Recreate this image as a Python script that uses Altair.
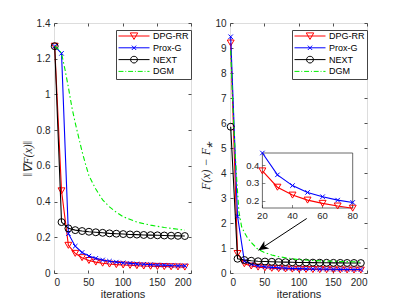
import math
import altair as alt
import pandas as pd

# ---------------- data ----------------
SERIES = ["DPG-RR", "Prox-G", "NEXT", "DGM"]
COLORS = ["#ff0000", "#0000ff", "#000000", "#00ee00"]

it_marks = [1, 11, 21, 31, 41, 51, 61, 71, 81, 91, 101, 111, 121, 131, 141, 151, 161, 171, 181, 191]

# left panel: ||grad F(x)||
dpg_left = [1.27, 0.46, 0.155, 0.11, 0.086, 0.07, 0.061, 0.055, 0.05, 0.047,
            0.045, 0.043, 0.041, 0.039, 0.038, 0.037, 0.036, 0.035, 0.034, 0.033]
prox_left = [1.27, 1.23, 0.22, 0.15, 0.115, 0.095, 0.082, 0.073, 0.066, 0.061,
             0.057, 0.054, 0.051, 0.049, 0.047, 0.045, 0.044, 0.042, 0.041, 0.04]
next_left = [1.27, 0.285, 0.25, 0.24, 0.235, 0.231, 0.228, 0.225, 0.222, 0.22,
             0.218, 0.216, 0.215, 0.213, 0.212, 0.211, 0.21, 0.209, 0.208, 0.207]
dgm_left_it = [1, 6, 11, 16, 21, 26, 31, 36, 41, 46, 51, 61, 71, 81, 91, 101, 121, 141, 161, 181, 191]
dgm_left = [1.27, 1.255, 1.23, 1.14, 1.04, 0.93, 0.84, 0.76, 0.68, 0.61, 0.545, 0.47, 0.41,
            0.37, 0.34, 0.315, 0.285, 0.268, 0.255, 0.245, 0.24]

# right panel: F(x) - F*
dpg_right = [9.2, 0.78, 0.37, 0.279, 0.235, 0.207, 0.189, 0.174, 0.162, 0.155,
             0.148, 0.142, 0.137, 0.133, 0.13, 0.127, 0.124, 0.122, 0.12, 0.118]
prox_right = [9.45, 2.27, 0.47, 0.348, 0.288, 0.25, 0.226, 0.207, 0.194, 0.183,
              0.175, 0.168, 0.162, 0.157, 0.153, 0.149, 0.146, 0.143, 0.14, 0.138]
next_right = [5.85, 0.57, 0.52, 0.49, 0.47, 0.458, 0.448, 0.44, 0.434, 0.428,
              0.423, 0.419, 0.415, 0.412, 0.409, 0.406, 0.404, 0.402, 0.4, 0.398]
dgm_right_it = [1, 4, 7, 10, 13, 17, 21, 25, 31, 36, 41, 51, 61, 71, 81, 91, 101, 121, 141, 161, 181, 191]
dgm_right = [8.9, 6.8, 5.1, 3.65, 2.45, 1.85, 1.62, 1.43, 1.22, 1.08, 0.94, 0.81, 0.72,
             0.655, 0.61, 0.57, 0.535, 0.5, 0.475, 0.46, 0.448, 0.443]

# inset (zoom of right panel)
inset_it = [20, 30, 40, 50, 60, 70, 80]
inset_dpg = [0.37, 0.279, 0.235, 0.207, 0.189, 0.174, 0.162]
inset_prox = [0.47, 0.348, 0.288, 0.25, 0.226, 0.207, 0.194]
inset_frame_x = [20, 80]
inset_frame_y = [0.163, 0.47]

# arrow annotation (tail -> head), right panel data coords
arrow_it = [112, 41.5]
arrow_val = [2.18, 0.91]

# ticks
x_ticks = [0, 50, 100, 150, 200]
left_y_ticks = [0, 0.2, 0.4, 0.6, 0.8, 1.0, 1.2, 1.4]
right_y_ticks = [0, 1, 2, 3, 4, 5, 6, 7, 8, 9, 10]
inset_x_ticks = [20, 40, 60, 80]
inset_x_labels = ["20", "40", "60", "80"]
inset_y_ticks = [0.2, 0.3, 0.4]
inset_y_labels = ["0.2", "0.3", "0.4"]

# ---------------- style ----------------
FONT = "Liberation Sans"
TFONT = "Liberation Serif"
AXC = "#262626"
W, H = 137, 250
INSET_XR = [32.4, 122.7]
INSET_YR = [185, 130]

LEGEND_PATHS = [
    "M-1,0H1M-0.24,-0.2H0.24L0,0.22Z",
    "M-1,0H1M-0.14,-0.14L0.14,0.14M-0.14,0.14L0.14,-0.14",
    "M-1,0H1M-0.22,0A0.22,0.22,0,1,1,0.22,0A0.22,0.22,0,1,1,-0.22,0",
    "M-1,0H-0.68M-0.56,0H-0.5M-0.38,0H-0.06M0.06,0H0.12M0.24,0H0.56M0.68,0H0.74M0.86,0H1",
]
MARKERS = {
    "DPG-RR": dict(shape="triangle-down", size=48),
    "Prox-G": dict(shape="M-1,-1L1,1M-1,1L1,-1", size=20),
    "NEXT": dict(shape="circle", size=48),
}
ARROW_HEAD = "M0,0L0.45,1L0,0.72L-0.45,1Z"


def axis(**kw):
    base = dict(domain=False, grid=False, tickColor=AXC, tickWidth=0.8,
                labelColor=AXC, labelFont=FONT, labelFontSize=10, format=".6~g")
    base.update(kw)
    return alt.Axis(**base)


def main_panel(vals, dgm_it, dgm_vals, ydom, yticks, ytitle, title_y, lx, ly):
    xs = alt.Scale(domain=[0, 200], nice=False, zero=False)
    ys = alt.Scale(domain=ydom, nice=False, zero=False)
    ax_b = axis(orient="bottom", values=x_ticks, offset=-3, tickSize=3, labelPadding=4,
                title="iterations", titleFont=FONT, titleFontSize=11, titleFontWeight="normal",
                titleColor=AXC, titlePadding=1)
    ax_l = axis(orient="left", values=yticks, offset=-3, tickSize=3, labelPadding=4,
                title=ytitle, titleFont=TFONT, titleFontSize=12, titleFontStyle="italic",
                titleFontWeight="normal", titleColor=AXC, titlePadding=2, titleY=title_y)
    ax_t = axis(orient="top", values=x_ticks, offset=-3, tickSize=3, labels=False, title=None)
    ax_r = axis(orient="right", values=yticks, offset=-3, tickSize=3, labels=False, title=None)

    leg = alt.Legend(orient="none", legendX=lx, legendY=ly, title=None,
                     symbolSize=961, clipHeight=8, rowPadding=2.8, padding=2,
                     strokeColor="#444", fillColor="white", labelFont=FONT,
                     labelFontSize=9, labelColor="#000", labelOffset=3,
                     symbolStrokeWidth=1)
    ldf = pd.DataFrame({"it": [100] * 4, "v": [ydom[1] / 2] * 4, "s": SERIES})
    legend_layer = alt.Chart(ldf).mark_point(opacity=0, filled=False, strokeWidth=1).encode(
        x=alt.X("it:Q", scale=xs, axis=None),
        y=alt.Y("v:Q", scale=ys, axis=None),
        color=alt.Color("s:N", scale=alt.Scale(domain=SERIES, range=COLORS), legend=leg),
        shape=alt.Shape("s:N", scale=alt.Scale(domain=SERIES, range=LEGEND_PATHS), legend=leg),
    )

    layers = [legend_layer]
    for i, name in enumerate(SERIES[:3]):
        d = pd.DataFrame({"it": it_marks, "v": vals[i]})
        first = i == 0
        line = alt.Chart(d).mark_line(color=COLORS[i], strokeWidth=1.1).encode(
            x=alt.X("it:Q", scale=xs, axis=ax_b if first else None),
            y=alt.Y("v:Q", scale=ys, axis=ax_l if first else None),
        )
        pts = alt.Chart(d).mark_point(color=COLORS[i], filled=False, strokeWidth=1,
                                      opacity=1, **MARKERS[name]).encode(
            x=alt.X("it:Q", scale=xs, axis=None),
            y=alt.Y("v:Q", scale=ys, axis=None),
        )
        layers += [line, pts]
    dg = pd.DataFrame({"it": dgm_it, "v": dgm_vals})
    dgm_line = alt.Chart(dg).mark_line(color=COLORS[3], strokeWidth=1.1,
                                       strokeDash=[5, 2.5, 1.5, 2.5]).encode(
        x=alt.X("it:Q", scale=xs, axis=ax_t),
        y=alt.Y("v:Q", scale=ys, axis=ax_r),
    )
    layers.append(dgm_line)
    return layers, xs, ys


# ---------------- left panel ----------------
left_layers, _, _ = main_panel([dpg_left, prox_left, next_left], dgm_left_it, dgm_left,
                               [0, 1.4], left_y_ticks, "‖∇F(x)‖", 135, 62, 7)
left = alt.layer(*left_layers).resolve_axis(x="independent", y="independent").properties(
    width=W, height=H)

# ---------------- right panel ----------------
right_layers, rxs, rys = main_panel([dpg_right, prox_right, next_right], dgm_right_it, dgm_right,
                                    [0, 10], right_y_ticks, "F(x) − F⁎", 142, 62, 7)

adf = pd.DataFrame({"it": arrow_it, "v": arrow_val})
arrow_line = alt.Chart(adf).mark_line(color="#000", strokeWidth=1).encode(
    x=alt.X("it:Q", scale=rxs, axis=None), y=alt.Y("v:Q", scale=rys, axis=None))
px_x = W / 200.0
px_y = H / 10.0
dxp = (arrow_it[1] - arrow_it[0]) * px_x
dyp = -(arrow_val[1] - arrow_val[0]) * px_y
ang = (math.degrees(math.atan2(dxp, -dyp))) % 360
hdf = pd.DataFrame({"it": [arrow_it[1]], "v": [arrow_val[1]]})
arrow_head = alt.Chart(hdf).mark_point(shape=ARROW_HEAD, size=400, filled=True, color="#000",
                                       opacity=1, angle=ang, strokeWidth=0).encode(
    x=alt.X("it:Q", scale=rxs, axis=None), y=alt.Y("v:Q", scale=rys, axis=None))
right_main = alt.layer(*right_layers, arrow_line, arrow_head).resolve_axis(
    x="independent", y="independent")

# inset: own scales mapped onto a sub-rectangle of the right plot area
ixs = alt.Scale(domain=inset_frame_x, range=INSET_XR, nice=False, zero=False)
iys = alt.Scale(domain=inset_frame_y, range=INSET_YR, nice=False, zero=False)


def IX(f="it"):
    return alt.X(f"{f}:Q", scale=ixs, axis=None)


def IY(f="v"):
    return alt.Y(f"{f}:Q", scale=iys, axis=None)


fdf = pd.DataFrame({"x": [inset_frame_x[0]], "x2": [inset_frame_x[1]],
                    "y": [inset_frame_y[0]], "y2": [inset_frame_y[1]]})
frame = alt.Chart(fdf).mark_rect(fill="white", stroke="#444", strokeWidth=0.8).encode(
    x=IX("x"), x2="x2:Q", y=IY("y"), y2="y2:Q")

xt = pd.DataFrame({"it": inset_x_ticks, "v": [inset_frame_y[0]] * 4, "t": inset_x_labels})
yt = pd.DataFrame({"it": [inset_frame_x[0]] * 3, "v": inset_y_ticks, "t": inset_y_labels})
xlab = alt.Chart(xt).mark_text(font=FONT, fontSize=9.5, color=AXC, baseline="top", dy=3).encode(
    x=IX(), y=IY(), text="t:N")
ylab = alt.Chart(yt).mark_text(font=FONT, fontSize=9.5, color=AXC, align="right",
                               baseline="middle", dx=-3).encode(x=IX(), y=IY(), text="t:N")
xtk = alt.Chart(xt).mark_tick(orient="vertical", size=3, thickness=0.8, color=AXC,
                              yOffset=-1.5).encode(x=IX(), y=IY())
ytk = alt.Chart(yt).mark_tick(orient="horizontal", size=3, thickness=0.8, color=AXC,
                              xOffset=1.5).encode(x=IX(), y=IY())

inset_layers = [frame, xtk, ytk, xlab, ylab]
for name, vals, col in [("DPG-RR", inset_dpg, COLORS[0]), ("Prox-G", inset_prox, COLORS[1])]:
    d = pd.DataFrame({"it": inset_it, "v": vals})
    inset_layers.append(alt.Chart(d).mark_line(color=col, strokeWidth=1.1).encode(x=IX(), y=IY()))
    inset_layers.append(alt.Chart(d).mark_point(color=col, filled=False, strokeWidth=1,
                                                opacity=1, **MARKERS[name]).encode(x=IX(), y=IY()))
inset = alt.layer(*inset_layers)

right = alt.layer(right_main, inset).resolve_scale(x="independent", y="independent").properties(
    width=W, height=H)

chart = alt.hconcat(left, right, spacing=7).resolve_scale(
    color="independent", shape="independent").resolve_legend(
    color="independent", shape="independent").properties(
    padding={"left": 12, "top": 9, "right": 0, "bottom": 0}).configure_view(
    stroke="#444", strokeWidth=0.8).configure(background="white")

chart.save("out.html", embed_options={"renderer": "svg", "actions": False})
